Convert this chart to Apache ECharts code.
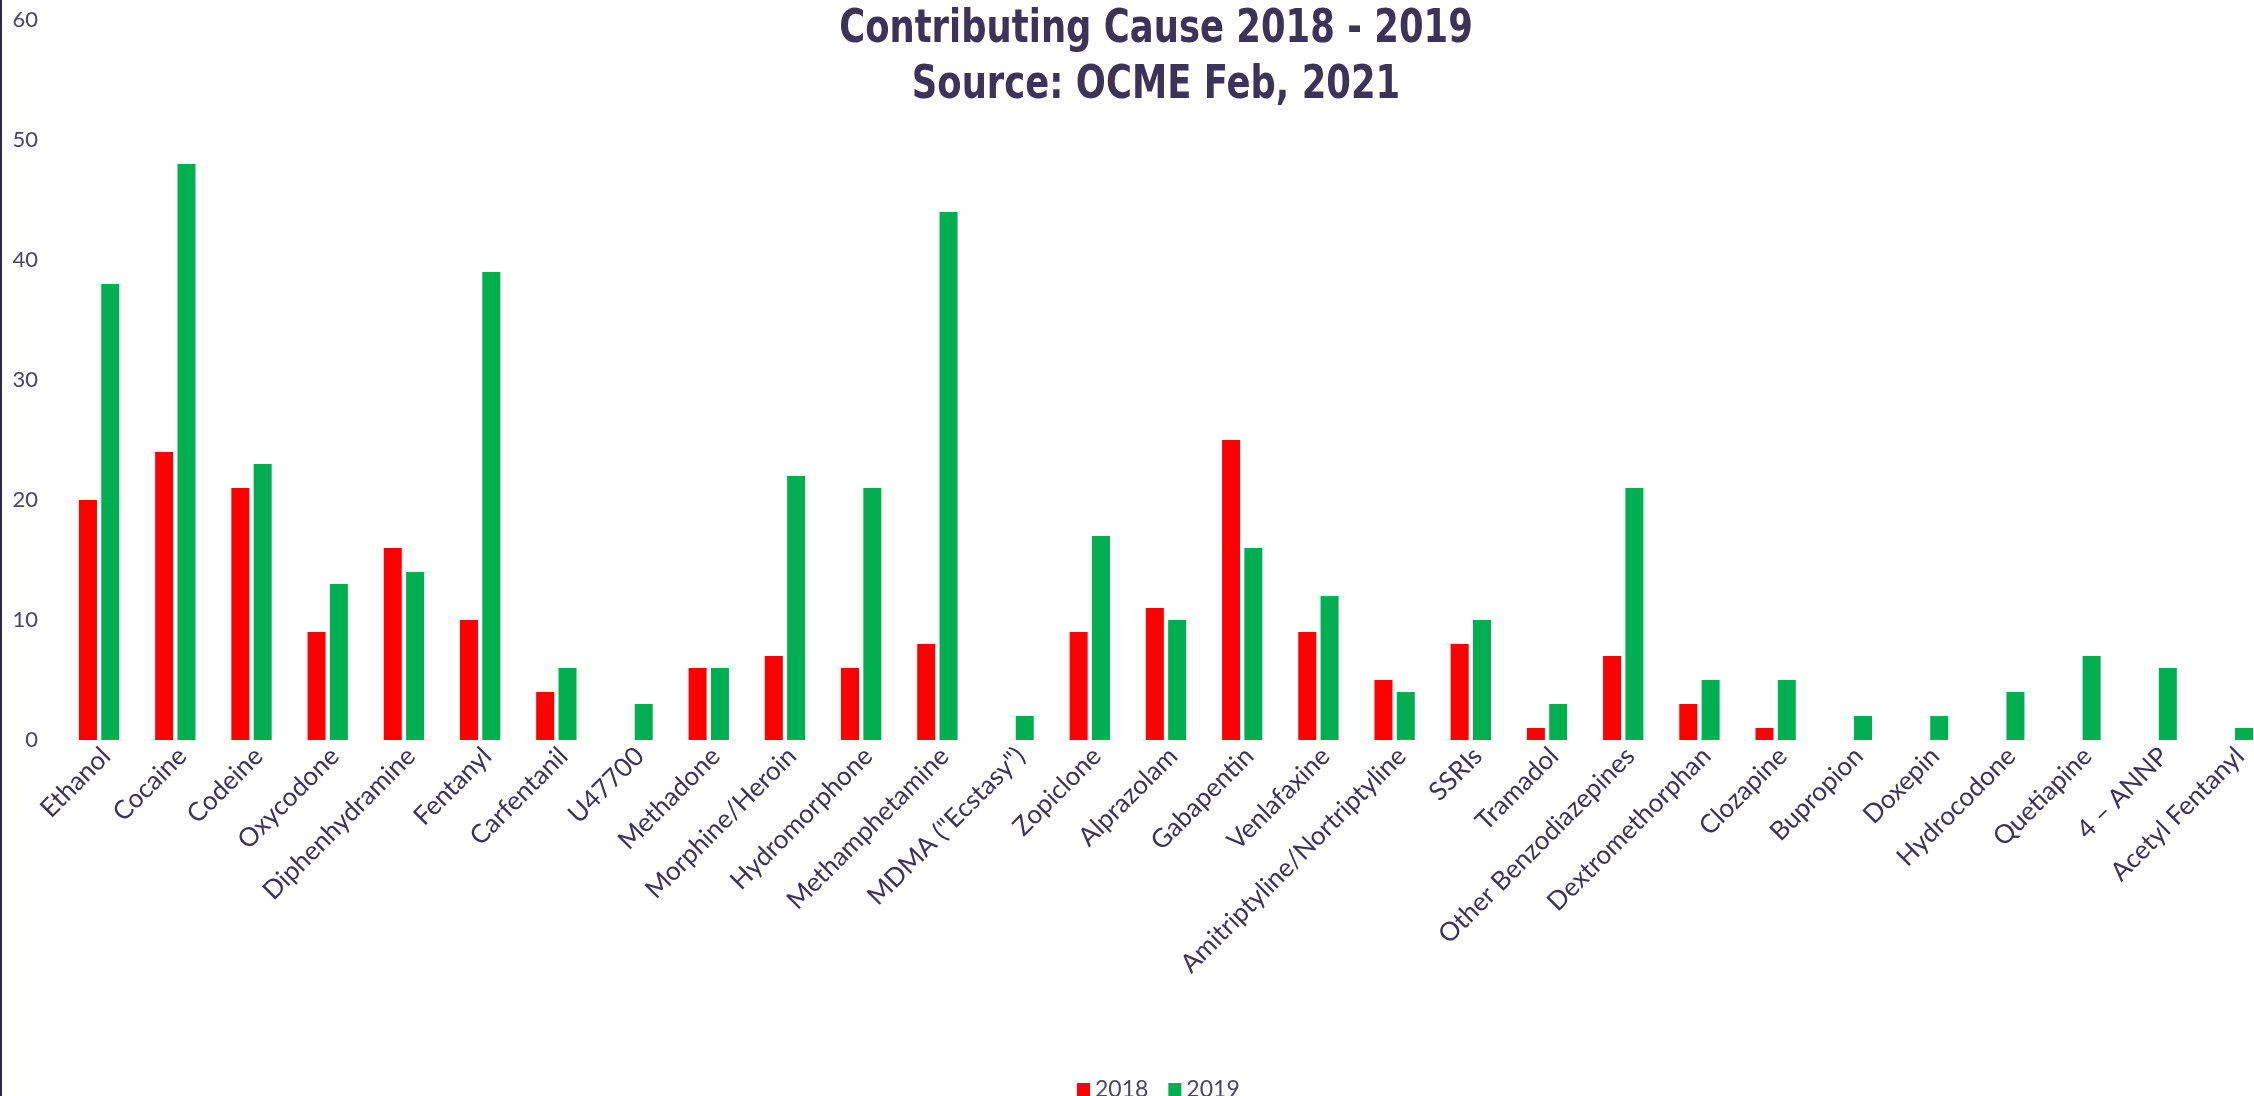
<!DOCTYPE html>
<html>
<head>
<meta charset="utf-8">
<script src="https://cdn.jsdelivr.net/npm/echarts@6/dist/echarts.min.js"></script>
<style>
html,body{margin:0;padding:0;background:#fff;}
#chart{width:2254px;height:1096px;}
</style>
</head>
<body>
<div id="chart"></div>
<script>
const categories = ["Ethanol","Cocaine","Codeine","Oxycodone","Diphenhydramine","Fentanyl","Carfentanil","U47700","Methadone","Morphine/Heroin","Hydromorphone","Methamphetamine","MDMA (\"Ecstasy\")","Zopiclone","Alprazolam","Gabapentin","Venlafaxine","Amitriptyline/Nortriptyline","SSRIs","Tramadol","Other Benzodiazepines","Dextromethorphan","Clozapine","Bupropion","Doxepin","Hydrocodone","Quetiapine","4 – ANNP","Acetyl Fentanyl"];
const values2018 = [20,24,21,9,16,10,4,null,6,7,6,8,null,9,11,25,9,5,8,1,7,3,1,null,null,null,null,null,null];
const values2019 = [38,48,23,13,14,39,6,3,6,22,21,44,2,17,10,16,12,4,10,3,21,5,5,2,2,4,7,6,1];
const seriesNames = ["2018","2019"];
const titleLines = ["Contributing Cause 2018 - 2019","Source: OCME Feb, 2021"];

const textColor = '#3b3358';
const chart = echarts.init(document.getElementById('chart'));
chart.setOption({
  backgroundColor: '#ffffff',
  animation: false,
  legend: {
    data: seriesNames,
    top: 1078,
    left: 1077,
    padding: 0,
    itemWidth: 13,
    itemHeight: 13,
    itemGap: 20,
    icon: 'rect',
    textStyle: {fontFamily: 'Lato, sans-serif', fontSize: 23, lineHeight: 18, color: '#4a4566'}
  },
  grid: {left: 61, right: -17, top: 20, bottom: 356, containLabel: false, outerBoundsMode: 'none'},
  xAxis: {
    type: 'category',
    data: categories,
    axisLine: {show: false},
    axisTick: {show: false},
    axisLabel: {
      interval: 0,
      rotate: 45,
      margin: 19,
      padding: [0, -10, 0, 0],
      fontFamily: 'Lato, sans-serif',
      fontSize: 26,
      color: textColor
    }
  },
  yAxis: {
    type: 'value',
    min: 0, max: 60, interval: 10,
    axisLine: {show: false},
    axisTick: {show: false},
    splitLine: {show: false},
    axisLabel: {margin: 23, fontFamily: 'Lato, sans-serif', fontSize: 22, color: '#4a4566'}
  },
  graphic: [
    {type: 'rect', left: 0, top: 0, shape: {width: 2, height: 1096}, style: {fill: '#2e2850'}},
    {
      type: 'text', x: 1156, y: 2, scaleX: 0.77,
      style: {
        text: titleLines.join('\n'),
        align: 'center', verticalAlign: 'top',
        fontFamily: '"DejaVu Sans",sans-serif', fontWeight: 'bold', fontSize: 46, lineHeight: 56,
        fill: textColor
      }
    }
  ],
  series: [
    {name: seriesNames[0], type: 'bar', data: values2018, barWidth: 18, barGap: '24%', itemStyle: {color: '#ff0000'}},
    {name: seriesNames[1], type: 'bar', data: values2019, barWidth: 18, barGap: '24%', itemStyle: {color: '#00b050'}}
  ]
});
</script>
</body>
</html>
